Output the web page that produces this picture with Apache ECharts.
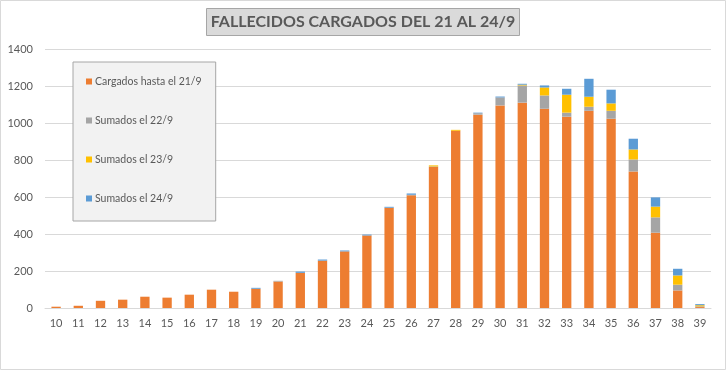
<!DOCTYPE html>
<html>
<head>
<meta charset="utf-8">
<script src="https://cdn.jsdelivr.net/npm/echarts@6/dist/echarts.min.js"></script>
<style>
html,body{margin:0;padding:0;background:#fff;}
#c{width:726px;height:370px;}
</style>
</head>
<body>
<div id="c"></div>
<script>
var categories = ['10','11','12','13','14','15','16','17','18','19','20','21','22','23','24','25','26','27','28','29','30','31','32','33','34','35','36','37','38','39'];
var cargados21 = [7,12,39,45,61,56,72,99,88,104,143,190,256,306,392,542,609,762,958,1045,1095,1110,1077,1034,1066,1023,738,407,95,5];
var sumados22  = [0,0,0,0,0,0,0,0,0,0,4,0,0,0,0,0,3,3,0,8,43,93,72,22,22,43,65,83,31,4];
var sumados23  = [0,0,0,0,0,0,0,0,0,0,0,0,0,0,0,0,0,6,5,0,0,4,43,97,54,40,54,58,50,6];
var sumados24  = [0,0,0,0,0,0,0,0,0,5,0,7,6,5,5,5,7,0,0,3,5,5,11,32,97,74,58,50,36,6];
var yTicks = [0,200,400,600,800,1000,1200,1400];

var seriesNames = ['Cargados hasta el 21/9','Sumados el 22/9','Sumados el 23/9','Sumados el 24/9'];
var seriesData = [cargados21, sumados22, sumados23, sumados24];
var colors = ['#ED7D31','#A5A5A5','#FFC000','#5B9BD5'];
var font = 'Lato, "Liberation Sans", sans-serif';

var chart = echarts.init(document.getElementById('c'), null, {renderer:'canvas'});
chart.setOption({
  animation:false,
  backgroundColor:'#ffffff',
  color: colors,
  title:{
    text:'FALLECIDOS CARGADOS DEL 21 AL 24/9',
    left:'center', top:8,
    padding:[5,4,5,4],
    backgroundColor:'#dadada',
    borderColor:'#a6a6a6', borderWidth:1,
    textStyle:{fontFamily:font, fontWeight:'bold', fontSize:16, color:'#595959', lineHeight:18}
  },
  legend:{
    orient:'vertical',
    left:73, top:62,
    padding:[14,14,17,13],
    itemGap:28,
    itemWidth:6, itemHeight:6,
    icon:'rect',
    backgroundColor:'#f2f2f2',
    borderColor:'#a6a6a6', borderWidth:1,
    textStyle:{fontFamily:font, fontSize:10.5, color:'#595959', padding:[0,0,0,-2]},
    data: seriesNames
  },
  grid:{left:45, right:15, top:49, bottom:62, containLabel:false},
  xAxis:{
    type:'category',
    data:categories,
    axisLine:{lineStyle:{color:'#d9d9d9'}},
    axisTick:{show:false},
    axisLabel:{fontFamily:font, fontSize:11, color:'#595959', margin:10}
  },
  yAxis:{
    type:'value',
    min:yTicks[0], max:yTicks[yTicks.length-1], interval:200,
    axisLine:{show:false},
    axisTick:{show:false},
    splitLine:{lineStyle:{color:'#d9d9d9'}},
    axisLabel:{fontFamily:font, fontSize:11, color:'#595959', margin:12,
      formatter:function(v){return String(v);}}
  },
  graphic:[{
    type:'rect', silent:true, z:-1,
    shape:{x:0.5,y:0.5,width:725,height:369},
    style:{fill:null, stroke:'#d9d9d9', lineWidth:1}
  }],
  series: seriesData.map(function(d,i){
    return {
      name:seriesNames[i], type:'bar', stack:'total',
      data:d, barWidth:'42%',
      itemStyle:{color:colors[i]}
    };
  })
});
</script>
</body>
</html>
